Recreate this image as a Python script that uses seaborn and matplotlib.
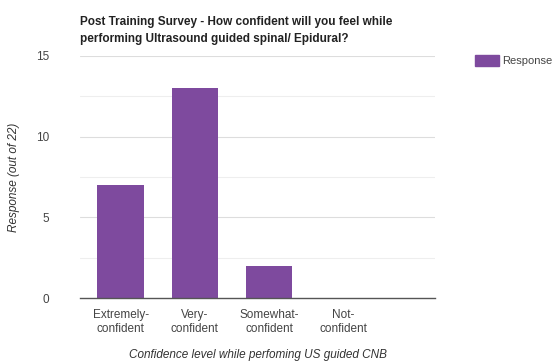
import matplotlib
matplotlib.use("Agg")
import matplotlib.pyplot as plt
import seaborn as sns
import pandas as pd
from matplotlib.patches import Patch

categories = ["Extremely-\nconfident", "Very-\nconfident", "Somewhat-\nconfident", "Not-\nconfident"]
responses = [7, 13, 2, 0]
yticks = [0, 5, 10, 15]

df = pd.DataFrame({"cat": categories, "val": responses})
purple = "#7E4A9E"

sns.set_theme(style="white")
plt.rcParams['font.family'] = ['Liberation Sans', 'DejaVu Sans']

fig = plt.figure(figsize=(5.52, 3.63), dpi=100)
ax = fig.add_axes([0.145, 0.179, 0.643, 0.667])

sns.barplot(data=df, x="cat", y="val", color=purple, width=0.63, ax=ax, saturation=1, linewidth=0)
ax.set_xlim(-0.55, 4.24)
ax.set_ylim(0, 15)
ax.set_yticks(yticks)
for v in [2.5, 7.5, 12.5]:
    ax.axhline(v, color="#eeeeee", lw=0.8, zorder=0)
for v in [5, 10, 15]:
    ax.axhline(v, color="#dddddd", lw=0.8, zorder=0)
ax.set_axisbelow(True)
for s in ["top", "right", "left"]:
    ax.spines[s].set_visible(False)
ax.spines["bottom"].set_color("#555555")
ax.spines["bottom"].set_linewidth(1.0)
ax.tick_params(axis="both", length=0, labelsize=8.5, labelcolor="#444444", pad=8)
ax.tick_params(axis="y", pad=22)
ax.set_xlabel("Confidence level while perfoming US guided CNB", style="italic", fontsize=8.5, color="#333333", labelpad=10)
ax.set_ylabel("Response (out of 22)", style="italic", fontsize=8.5, color="#333333", labelpad=12)

fig.text(0.145, 0.955, "Post Training Survey - How confident will you feel while\nperforming Ultrasound guided spinal/ Epidural?",
         fontsize=8.5, fontweight="bold", color="#222222", va="top", ha="left", linespacing=1.5)

leg = fig.legend(handles=[Patch(color=purple, label="Response")], loc="upper left",
                 bbox_to_anchor=(0.853, 0.86), frameon=False, fontsize=8,
                 handlelength=2.1, handleheight=1.1, borderaxespad=0, handletextpad=0.35)
for t in leg.get_texts():
    t.set_color("#444444")

fig.savefig("out.png", dpi=100)
